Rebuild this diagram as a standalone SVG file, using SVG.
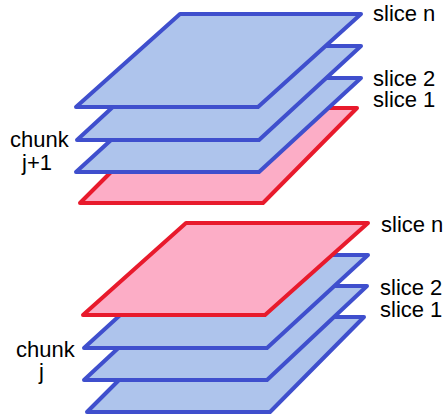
<svg xmlns="http://www.w3.org/2000/svg" width="445" height="415" viewBox="0 0 445 415">
<style>
.blue{fill:#aec4ec;stroke:#3f4fcd;stroke-width:4;stroke-linejoin:round}
.red{fill:#fcadc6;stroke:#e81a2c;stroke-width:4;stroke-linejoin:round}
text{font-family:"Liberation Sans",Arial,sans-serif;font-size:22px;fill:#000}
</style>
<rect width="445" height="415" fill="#fff"/>
<g id="chunk-j1">
<polygon class="red" points="175,108 357,108 263,203 80,203"/>
<polygon class="blue" points="179,78 361,78 259,172 76,172"/>
<polygon class="blue" points="179,46 361,46 259,140 77,140"/>
<polygon class="blue" points="180,14 361,14 258,107 76,107"/>
</g>
<g id="chunk-j">
<polygon class="blue" points="182,317 364,317 270,412 87,412"/>
<polygon class="blue" points="185,286 367,286 267,380 84,380"/>
<polygon class="blue" points="186,255 368,255 267,348 84,348"/>
<polygon class="red" points="186,223 368,223 265,315 83,315"/>
</g>
<g id="connectors"/>
<g id="labels">
<text x="373" y="21">slice n</text>
<text x="373" y="86">slice 2</text>
<text x="373" y="107">slice 1</text>
<text x="381" y="232">slice n</text>
<text x="380" y="295">slice 2</text>
<text x="380" y="317">slice 1</text>
<text x="10" y="147">chunk</text>
<text x="22" y="170">j+1</text>
<text x="16" y="357">chunk</text>
<text x="39" y="379">j</text>
</g>
</svg>
